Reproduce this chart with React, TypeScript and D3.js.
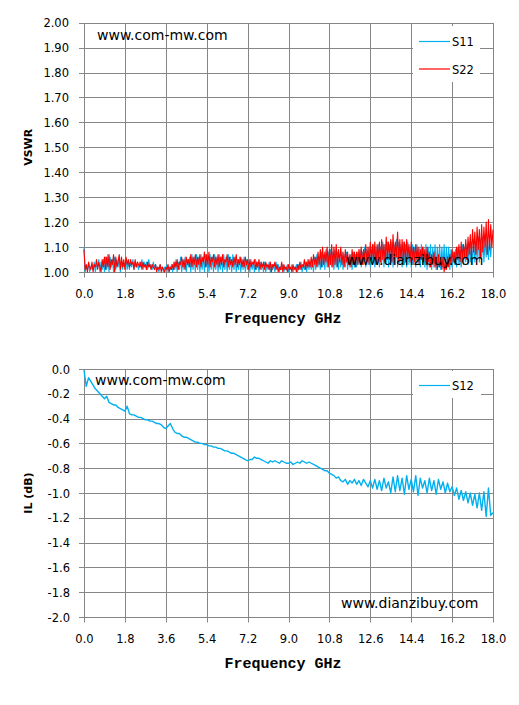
import * as d3 from 'd3';

// VSWR traces: one sample every 0.05 GHz; insertion loss: every 0.1 GHz
const VSWR_STEP = 0.05;
const IL_STEP = 0.1;

const xTicks = [0, 1.8, 3.6, 5.4, 7.2, 9.0, 10.8, 12.6, 14.4, 16.2, 18.0];
const vswrTicks = [1.0, 1.1, 1.2, 1.3, 1.4, 1.5, 1.6, 1.7, 1.8, 1.9, 2.0];
const ilTicks = [0, -0.2, -0.4, -0.6, -0.8, -1.0, -1.2, -1.4, -1.6, -1.8, -2.0];

const s11 = [
  1.10, 1.00, 1.02, 1.01, 1.03, 1.00, 1.02, 1.03, 1.01, 1.04, 1.00, 1.03, 1.02, 1.05, 1.00, 1.04, 1.01, 1.05, 1.00, 1.06,
  1.01, 1.07, 1.00, 1.06, 1.02, 1.05, 1.00, 1.06, 1.01, 1.05, 1.02, 1.06, 1.00, 1.05, 1.01, 1.04, 1.02, 1.05, 1.01, 1.04,
  1.01, 1.04, 1.02, 1.05, 1.01, 1.04, 1.02, 1.03, 1.01, 1.04, 1.02, 1.05, 1.01, 1.04, 1.02, 1.04, 1.01, 1.05, 1.02, 1.03,
  1.01, 1.04, 1.02, 1.03, 1.01, 1.02, 1.00, 1.03, 1.01, 1.02, 1.00, 1.02, 1.01, 1.03, 1.00, 1.02, 1.01, 1.03, 1.00, 1.04,
  1.01, 1.05, 1.00, 1.04, 1.01, 1.06, 1.00, 1.05, 1.01, 1.06, 1.00, 1.05, 1.02, 1.06, 1.00, 1.07, 1.01, 1.06, 1.00, 1.07,
  1.01, 1.06, 1.00, 1.07, 1.01, 1.06, 1.00, 1.07, 1.02, 1.06, 1.00, 1.07, 1.01, 1.06, 1.00, 1.07, 1.01, 1.06, 1.00, 1.07,
  1.01, 1.06, 1.00, 1.07, 1.01, 1.06, 1.00, 1.07, 1.01, 1.06, 1.00, 1.07, 1.01, 1.06, 1.00, 1.05, 1.01, 1.06, 1.00, 1.05,
  1.01, 1.06, 1.00, 1.05, 1.01, 1.04, 1.00, 1.05, 1.01, 1.04, 1.00, 1.05, 1.01, 1.04, 1.00, 1.04, 1.01, 1.03, 1.00, 1.04,
  1.00, 1.03, 1.01, 1.04, 1.00, 1.03, 1.01, 1.03, 1.00, 1.04, 1.01, 1.03, 1.00, 1.02, 1.01, 1.03, 1.00, 1.02, 1.01, 1.03,
  1.00, 1.02, 1.01, 1.03, 1.00, 1.02, 1.01, 1.03, 1.00, 1.03, 1.01, 1.04, 1.00, 1.03, 1.01, 1.04, 1.00, 1.05, 1.01, 1.04,
  1.01, 1.05, 1.00, 1.06, 1.01, 1.07, 1.02, 1.06, 1.01, 1.08, 1.02, 1.07, 1.01, 1.09, 1.02, 1.08, 1.01, 1.09, 1.02, 1.08,
  1.01, 1.09, 1.02, 1.08, 1.01, 1.07, 1.02, 1.08, 1.01, 1.07, 1.02, 1.08, 1.01, 1.06, 1.02, 1.07, 1.01, 1.08, 1.02, 1.07,
  1.02, 1.08, 1.03, 1.09, 1.02, 1.08, 1.03, 1.10, 1.02, 1.09, 1.03, 1.10, 1.02, 1.09, 1.03, 1.11, 1.02, 1.10, 1.03, 1.11,
  1.02, 1.10, 1.03, 1.12, 1.02, 1.11, 1.03, 1.12, 1.02, 1.11, 1.03, 1.12, 1.02, 1.11, 1.03, 1.13, 1.02, 1.12, 1.03, 1.11,
  1.02, 1.12, 1.03, 1.11, 1.02, 1.12, 1.03, 1.10, 1.02, 1.11, 1.03, 1.10, 1.02, 1.11, 1.03, 1.10, 1.02, 1.11, 1.03, 1.10,
  1.02, 1.11, 1.01, 1.10, 1.02, 1.11, 1.01, 1.10, 1.02, 1.11, 1.01, 1.10, 1.02, 1.11, 1.01, 1.10, 1.02, 1.11, 1.01, 1.10,
  1.02, 1.10, 1.01, 1.09, 1.02, 1.08, 1.03, 1.09, 1.02, 1.10, 1.03, 1.09, 1.02, 1.11, 1.03, 1.10, 1.04, 1.11, 1.03, 1.12,
  1.04, 1.12, 1.03, 1.13, 1.04, 1.12, 1.05, 1.14, 1.04, 1.13, 1.05, 1.14, 1.04, 1.13, 1.06, 1.14, 1.05, 1.13, 1.06, 1.14,
  1.15,
];

const s22 = [
  1.09, 1.01, 1.03, 1.00, 1.04, 1.02, 1.01, 1.04, 1.00, 1.03, 1.02, 1.05, 1.01, 1.04, 1.02, 1.00, 1.05, 1.02, 1.06, 1.01,
  1.06, 1.02, 1.07, 1.01, 1.05, 1.03, 1.07, 1.00, 1.06, 1.02, 1.04, 1.07, 1.01, 1.06, 1.02, 1.05, 1.01, 1.06, 1.03, 1.05,
  1.02, 1.05, 1.03, 1.04, 1.01, 1.05, 1.02, 1.04, 1.03, 1.02, 1.04, 1.01, 1.04, 1.02, 1.03, 1.01, 1.04, 1.02, 1.03, 1.01,
  1.03, 1.02, 1.01, 1.03, 1.00, 1.02, 1.01, 1.03, 1.00, 1.02, 1.01, 1.00, 1.02, 1.01, 1.03, 1.00, 1.02, 1.01, 1.03, 1.01,
  1.04, 1.02, 1.05, 1.01, 1.04, 1.03, 1.06, 1.02, 1.05, 1.01, 1.06, 1.03, 1.05, 1.02, 1.07, 1.02, 1.06, 1.03, 1.07, 1.02,
  1.06, 1.03, 1.07, 1.02, 1.06, 1.04, 1.08, 1.02, 1.07, 1.03, 1.08, 1.02, 1.06, 1.04, 1.07, 1.02, 1.06, 1.03, 1.07, 1.02,
  1.06, 1.03, 1.07, 1.02, 1.05, 1.04, 1.07, 1.02, 1.06, 1.03, 1.05, 1.02, 1.06, 1.03, 1.07, 1.02, 1.05, 1.03, 1.06, 1.02,
  1.05, 1.02, 1.06, 1.03, 1.05, 1.01, 1.05, 1.02, 1.04, 1.03, 1.05, 1.01, 1.04, 1.02, 1.05, 1.01, 1.04, 1.02, 1.04, 1.01,
  1.04, 1.02, 1.03, 1.01, 1.04, 1.00, 1.03, 1.02, 1.04, 1.01, 1.03, 1.00, 1.02, 1.01, 1.04, 1.00, 1.03, 1.01, 1.02, 1.00,
  1.03, 1.01, 1.02, 1.00, 1.03, 1.01, 1.02, 1.00, 1.03, 1.01, 1.04, 1.01, 1.03, 1.02, 1.05, 1.01, 1.04, 1.02, 1.05, 1.02,
  1.06, 1.02, 1.07, 1.03, 1.06, 1.02, 1.08, 1.03, 1.09, 1.02, 1.10, 1.03, 1.08, 1.04, 1.10, 1.02, 1.09, 1.03, 1.11, 1.02,
  1.10, 1.03, 1.11, 1.02, 1.09, 1.04, 1.10, 1.03, 1.08, 1.02, 1.09, 1.04, 1.08, 1.03, 1.07, 1.02, 1.09, 1.03, 1.08, 1.02,
  1.08, 1.03, 1.09, 1.04, 1.10, 1.03, 1.09, 1.05, 1.11, 1.04, 1.10, 1.03, 1.12, 1.05, 1.11, 1.04, 1.12, 1.03, 1.11, 1.05,
  1.12, 1.04, 1.13, 1.05, 1.11, 1.04, 1.14, 1.05, 1.12, 1.06, 1.13, 1.04, 1.15, 1.05, 1.12, 1.06, 1.16, 1.04, 1.13, 1.05,
  1.13, 1.05, 1.12, 1.04, 1.13, 1.06, 1.11, 1.04, 1.12, 1.05, 1.10, 1.04, 1.11, 1.05, 1.10, 1.03, 1.09, 1.05, 1.10, 1.04,
  1.09, 1.03, 1.10, 1.04, 1.08, 1.02, 1.07, 1.03, 1.08, 1.02, 1.06, 1.01, 1.07, 1.02, 1.05, 1.01, 1.06, 1.00, 1.05, 1.01,
  1.06, 1.02, 1.07, 1.03, 1.09, 1.04, 1.08, 1.03, 1.10, 1.05, 1.11, 1.04, 1.12, 1.05, 1.11, 1.06, 1.13, 1.05, 1.14, 1.07,
  1.15, 1.06, 1.17, 1.08, 1.16, 1.07, 1.18, 1.09, 1.17, 1.06, 1.19, 1.08, 1.18, 1.10, 1.20, 1.07, 1.21, 1.09, 1.19, 1.10,
  1.17,
];

const s12 = [
  -0.01, -0.14, -0.07, -0.10, -0.13, -0.16, -0.18, -0.20, -0.22, -0.24,
  -0.22, -0.27, -0.28, -0.29, -0.29, -0.31, -0.32, -0.33, -0.34, -0.30,
  -0.36, -0.37, -0.37, -0.38, -0.39, -0.39, -0.40, -0.41, -0.41, -0.42,
  -0.42, -0.43, -0.44, -0.44, -0.45, -0.47, -0.48, -0.46, -0.44, -0.48,
  -0.51, -0.52, -0.52, -0.54, -0.55, -0.55, -0.56, -0.57, -0.58, -0.59,
  -0.59, -0.60, -0.60, -0.61, -0.61, -0.62, -0.62, -0.63, -0.63, -0.64,
  -0.64, -0.65, -0.66, -0.66, -0.67, -0.68, -0.68, -0.69, -0.70, -0.71,
  -0.72, -0.73, -0.74, -0.73, -0.73, -0.71, -0.72, -0.72, -0.73, -0.74,
  -0.75, -0.76, -0.74, -0.75, -0.74, -0.75, -0.76, -0.74, -0.75, -0.76,
  -0.76, -0.75, -0.77, -0.76, -0.75, -0.76, -0.74, -0.75, -0.76, -0.75,
  -0.76, -0.77, -0.78, -0.79, -0.80, -0.81, -0.82, -0.82, -0.84, -0.85,
  -0.86, -0.88, -0.87, -0.90, -0.91, -0.89, -0.93, -0.90, -0.92, -0.89,
  -0.93, -0.90, -0.94, -0.89, -0.92, -0.95, -0.90, -0.96, -0.89, -0.97,
  -0.90, -0.98, -0.88, -0.96, -0.91, -1.00, -0.87, -0.99, -0.86, -0.98,
  -0.88, -1.01, -0.86, -0.97, -0.89, -0.99, -0.86, -1.02, -0.88, -0.96,
  -0.90, -1.00, -0.88, -0.98, -0.90, -1.01, -0.89, -0.97, -0.91, -1.00,
  -0.92, -0.99, -0.95, -1.02, -0.96, -1.05, -0.98, -1.06, -0.99, -1.08,
  -1.00, -1.10, -1.01, -1.12, -1.00, -1.14, -0.99, -1.19, -0.96, -1.18,
  -1.16,
];

const GRID = '#868686';
const BLUE = '#00b0f0';
const RED = '#ff0000';
const SANS = '"DejaVu Sans", Verdana, sans-serif';
const MONO = '"Liberation Mono", "Courier New", monospace';

const x = d3.scaleLinear().domain([0, 18]).range([84, 493]);
const crisp = (v: number) => Math.round(v) + 0.5;

interface Series {
  values: number[];
  step: number;
  color: string;
  width: number;
}

interface PanelProps {
  top: number;
  bottom: number;
  domain: [number, number];
  ticks: number[];
  digits: number;
  labelEnd: number;
  yTitle: string;
  series: Series[];
  legend: { box: [number, number, number, number]; items: { name: string; color: string; y: number }[] };
  marks: { text: string; x: number; y: number }[];
}

function Panel({ top, bottom, domain, ticks, digits, labelEnd, yTitle, series, legend, marks }: PanelProps) {
  const y = d3.scaleLinear().domain(domain).range([bottom, top]);
  const [bx, by, bw, bh] = legend.box;
  const yb = crisp(bottom);

  return (
    <g>
      {ticks.map((t) => (
        <line key={'h' + t} x1={84} x2={494} y1={crisp(y(t))} y2={crisp(y(t))} stroke={GRID} />
      ))}
      {xTicks.map((t) => (
        <line key={'v' + t} x1={crisp(x(t))} x2={crisp(x(t))} y1={crisp(top)} y2={yb + 5} stroke={GRID} />
      ))}
      {ticks.map((t) => (
        <line key={'t' + t} x1={79} x2={84} y1={crisp(y(t))} y2={crisp(y(t))} stroke={GRID} />
      ))}
      {ticks.map((t) => (
        <text key={'l' + t} x={labelEnd} y={y(t) + 4.5} textAnchor="end" fontFamily={SANS} fontSize={11.5} fill="#000">
          {t.toFixed(digits)}
        </text>
      ))}
      {xTicks.map((t) => (
        <text key={'x' + t} x={x(t) + 0.5} y={bottom + 26} textAnchor="middle" fontFamily={SANS} fontSize={11.5} fill="#000">
          {t.toFixed(1)}
        </text>
      ))}
      {series.map((s, i) => {
        const line = d3
          .line<number>()
          .x((_, j) => x(j * s.step))
          .y((d) => y(d));
        return (
          <path key={i} d={line(s.values) ?? ''} fill="none" stroke={s.color} strokeWidth={s.width} strokeLinejoin="round" />
        );
      })}
      <rect x={bx} y={by} width={bw} height={bh} fill="#fff" />
      {legend.items.map((it) => (
        <g key={it.name}>
          <line x1={419} x2={450} y1={it.y} y2={it.y} stroke={it.color} strokeWidth={1.2} />
          <text x={452} y={it.y + 4.5} fontFamily={SANS} fontSize={11.5} fill="#000">
            {it.name}
          </text>
        </g>
      ))}
      {marks.map((m) => (
        <text key={m.text} x={m.x} y={m.y} fontFamily={SANS} fontSize={14} fill="#000">
          {m.text}
        </text>
      ))}
      <text
        transform={`translate(32,${(top + bottom) / 2}) rotate(-90)`}
        textAnchor="middle"
        fontFamily={SANS}
        fontWeight="bold"
        fontSize={11}
        fill="#000"
      >
        {yTitle}
      </text>
      <text x={283} y={bottom + 51} textAnchor="middle" fontFamily={MONO} fontWeight="bold" fontSize={15} fill="#000">
        Frequency GHz
      </text>
    </g>
  );
}

export default function App() {
  return (
    <div style={{ position: 'absolute', left: 0, top: 0 }}>
      <svg width={519} height={705} style={{ display: 'block', background: '#fff' }}>
        <Panel
          top={22.7}
          bottom={272}
          domain={[1, 2]}
          ticks={vswrTicks}
          digits={2}
          labelEnd={69}
          yTitle="VSWR"
          series={[
            { values: s11, step: VSWR_STEP, color: BLUE, width: 1.1 },
            { values: s22, step: VSWR_STEP, color: RED, width: 1.1 },
          ]}
          legend={{
            box: [413, 26, 67, 56],
            items: [
              { name: 'S11', color: BLUE, y: 41.5 },
              { name: 'S22', color: RED, y: 69 },
            ],
          }}
          marks={[
            { text: 'www.com-mw.com', x: 97, y: 40 },
            { text: 'www.dianzibuy.com', x: 346, y: 265 },
          ]}
        />
        <Panel
          top={369}
          bottom={617}
          domain={[-2, 0]}
          ticks={ilTicks}
          digits={1}
          labelEnd={70}
          yTitle="IL (dB)"
          series={[{ values: s12, step: IL_STEP, color: BLUE, width: 1.4 }]}
          legend={{
            box: [413, 371, 68, 27],
            items: [{ name: 'S12', color: BLUE, y: 385.5 }],
          }}
          marks={[
            { text: 'www.com-mw.com', x: 95, y: 385 },
            { text: 'www.dianzibuy.com', x: 341, y: 608 },
          ]}
        />
      </svg>
    </div>
  );
}
